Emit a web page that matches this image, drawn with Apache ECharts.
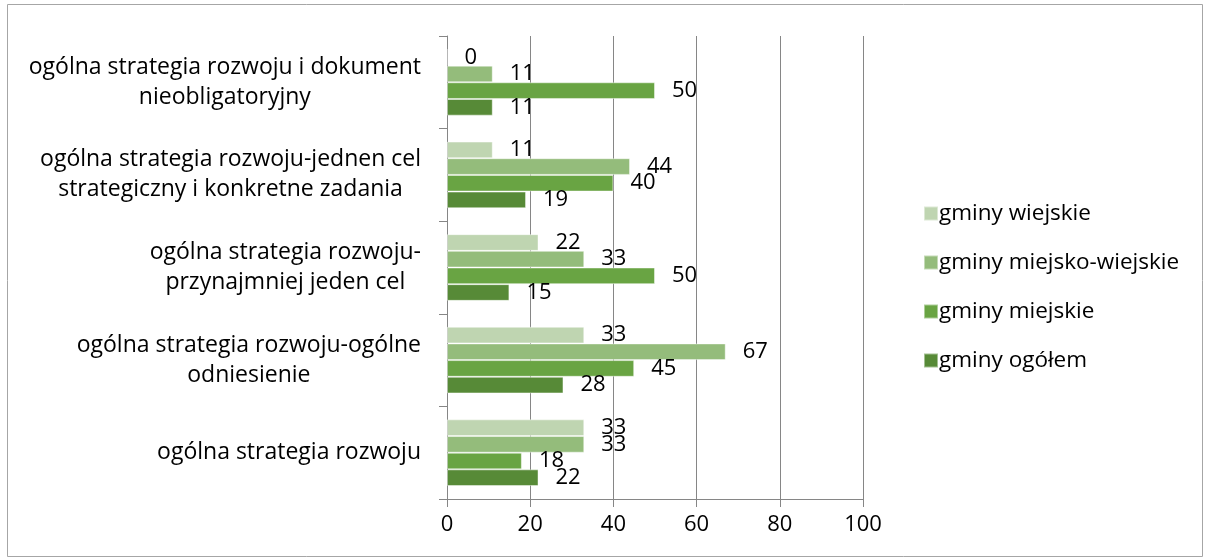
<!DOCTYPE html>
<html>
<head>
<meta charset="utf-8">
<script src="https://cdn.jsdelivr.net/npm/echarts@6/dist/echarts.min.js"></script>
<style>html,body{margin:0;padding:0;background:#fff}#c{width:1208px;height:560px}</style>
</head>
<body>
<div id="c"></div>
<script>
// categories listed bottom to top
const categories = [
  'ogólna strategia rozwoju',
  'ogólna strategia rozwoju-ogólne\nodniesienie',
  'ogólna strategia rozwoju-\nprzynajmniej jeden cel',
  'ogólna strategia rozwoju-jednen cel\nstrategiczny i konkretne zadania',
  'ogólna strategia rozwoju i dokument\nnieobligatoryjny'
];
const gminyWiejskie = [33, 33, 22, 11, 0];
const gminyMiejskoWiejskie = [33, 67, 33, 44, 11];
const gminyMiejskie = [18, 45, 50, 40, 50];
const gminyOgolem = [22, 28, 15, 19, 11];
const xTicks = [0, 20, 40, 60, 80, 100];

const FONT = '"Open Sans", sans-serif';
const chart = echarts.init(document.getElementById('c'));
function mk(name, data, color) {
  return {
    name: name, type: 'bar', data: data,
    barGap: '0%', barCategoryGap: '28%',
    itemStyle: { color: color, borderColor: 'rgba(255,255,255,0.45)', borderWidth: 1 },
    label: { show: true, position: 'right', distance: 17, color: '#000', fontSize: 22, fontFamily: FONT },
    emphasis: { disabled: true }
  };
}
chart.setOption({
  animation: false,
  textStyle: { fontFamily: FONT },
  graphic: [{ type: 'rect', shape: { x: 7.5, y: 4.5, width: 1195, height: 552 }, style: { fill: 'none', stroke: '#a6a6a6', lineWidth: 1 } }],
  grid: { left: 447, right: 345, top: 36, bottom: 61 },
  legend: {
    orient: 'vertical', left: 918, top: 197, itemWidth: 14, itemHeight: 14, itemGap: 26,
    icon: 'rect',
    textStyle: { fontSize: 22.5, color: '#000', fontFamily: FONT, padding: [0, 0, 0, -4] },
    data: ['gminy wiejskie', 'gminy miejsko-wiejskie', 'gminy miejskie', 'gminy ogółem']
  },
  xAxis: {
    type: 'value', min: xTicks[0], max: xTicks[xTicks.length - 1], interval: 20,
    axisLine: { show: true, lineStyle: { color: '#868686' } },
    axisTick: { show: true, length: 8, lineStyle: { color: '#868686' } },
    splitLine: { show: true, lineStyle: { color: '#868686' } },
    axisLabel: { fontSize: 22, color: '#000', margin: 15, fontFamily: FONT }
  },
  yAxis: {
    type: 'category', data: categories,
    axisLine: { show: true, lineStyle: { color: '#868686' } },
    axisTick: { show: true, length: 8, lineStyle: { color: '#868686' } },
    axisLabel: {
      margin: 26, color: '#000', fontSize: 23, fontFamily: FONT, lineHeight: 30,
      formatter: function (v) { return v.split('\n').map(function (s) { return '{c|' + s + '}'; }).join('\n'); },
      rich: { c: { align: 'center', fontSize: 23, lineHeight: 30, fontFamily: FONT, color: '#000' } }
    }
  },
  series: [
    mk('gminy wiejskie', gminyWiejskie, '#BFD5B1'),
    mk('gminy miejsko-wiejskie', gminyMiejskoWiejskie, '#94BC7B'),
    mk('gminy miejskie', gminyMiejskie, '#69A443'),
    mk('gminy ogółem', gminyOgolem, '#578A37')
  ]
});
</script>
</body>
</html>
